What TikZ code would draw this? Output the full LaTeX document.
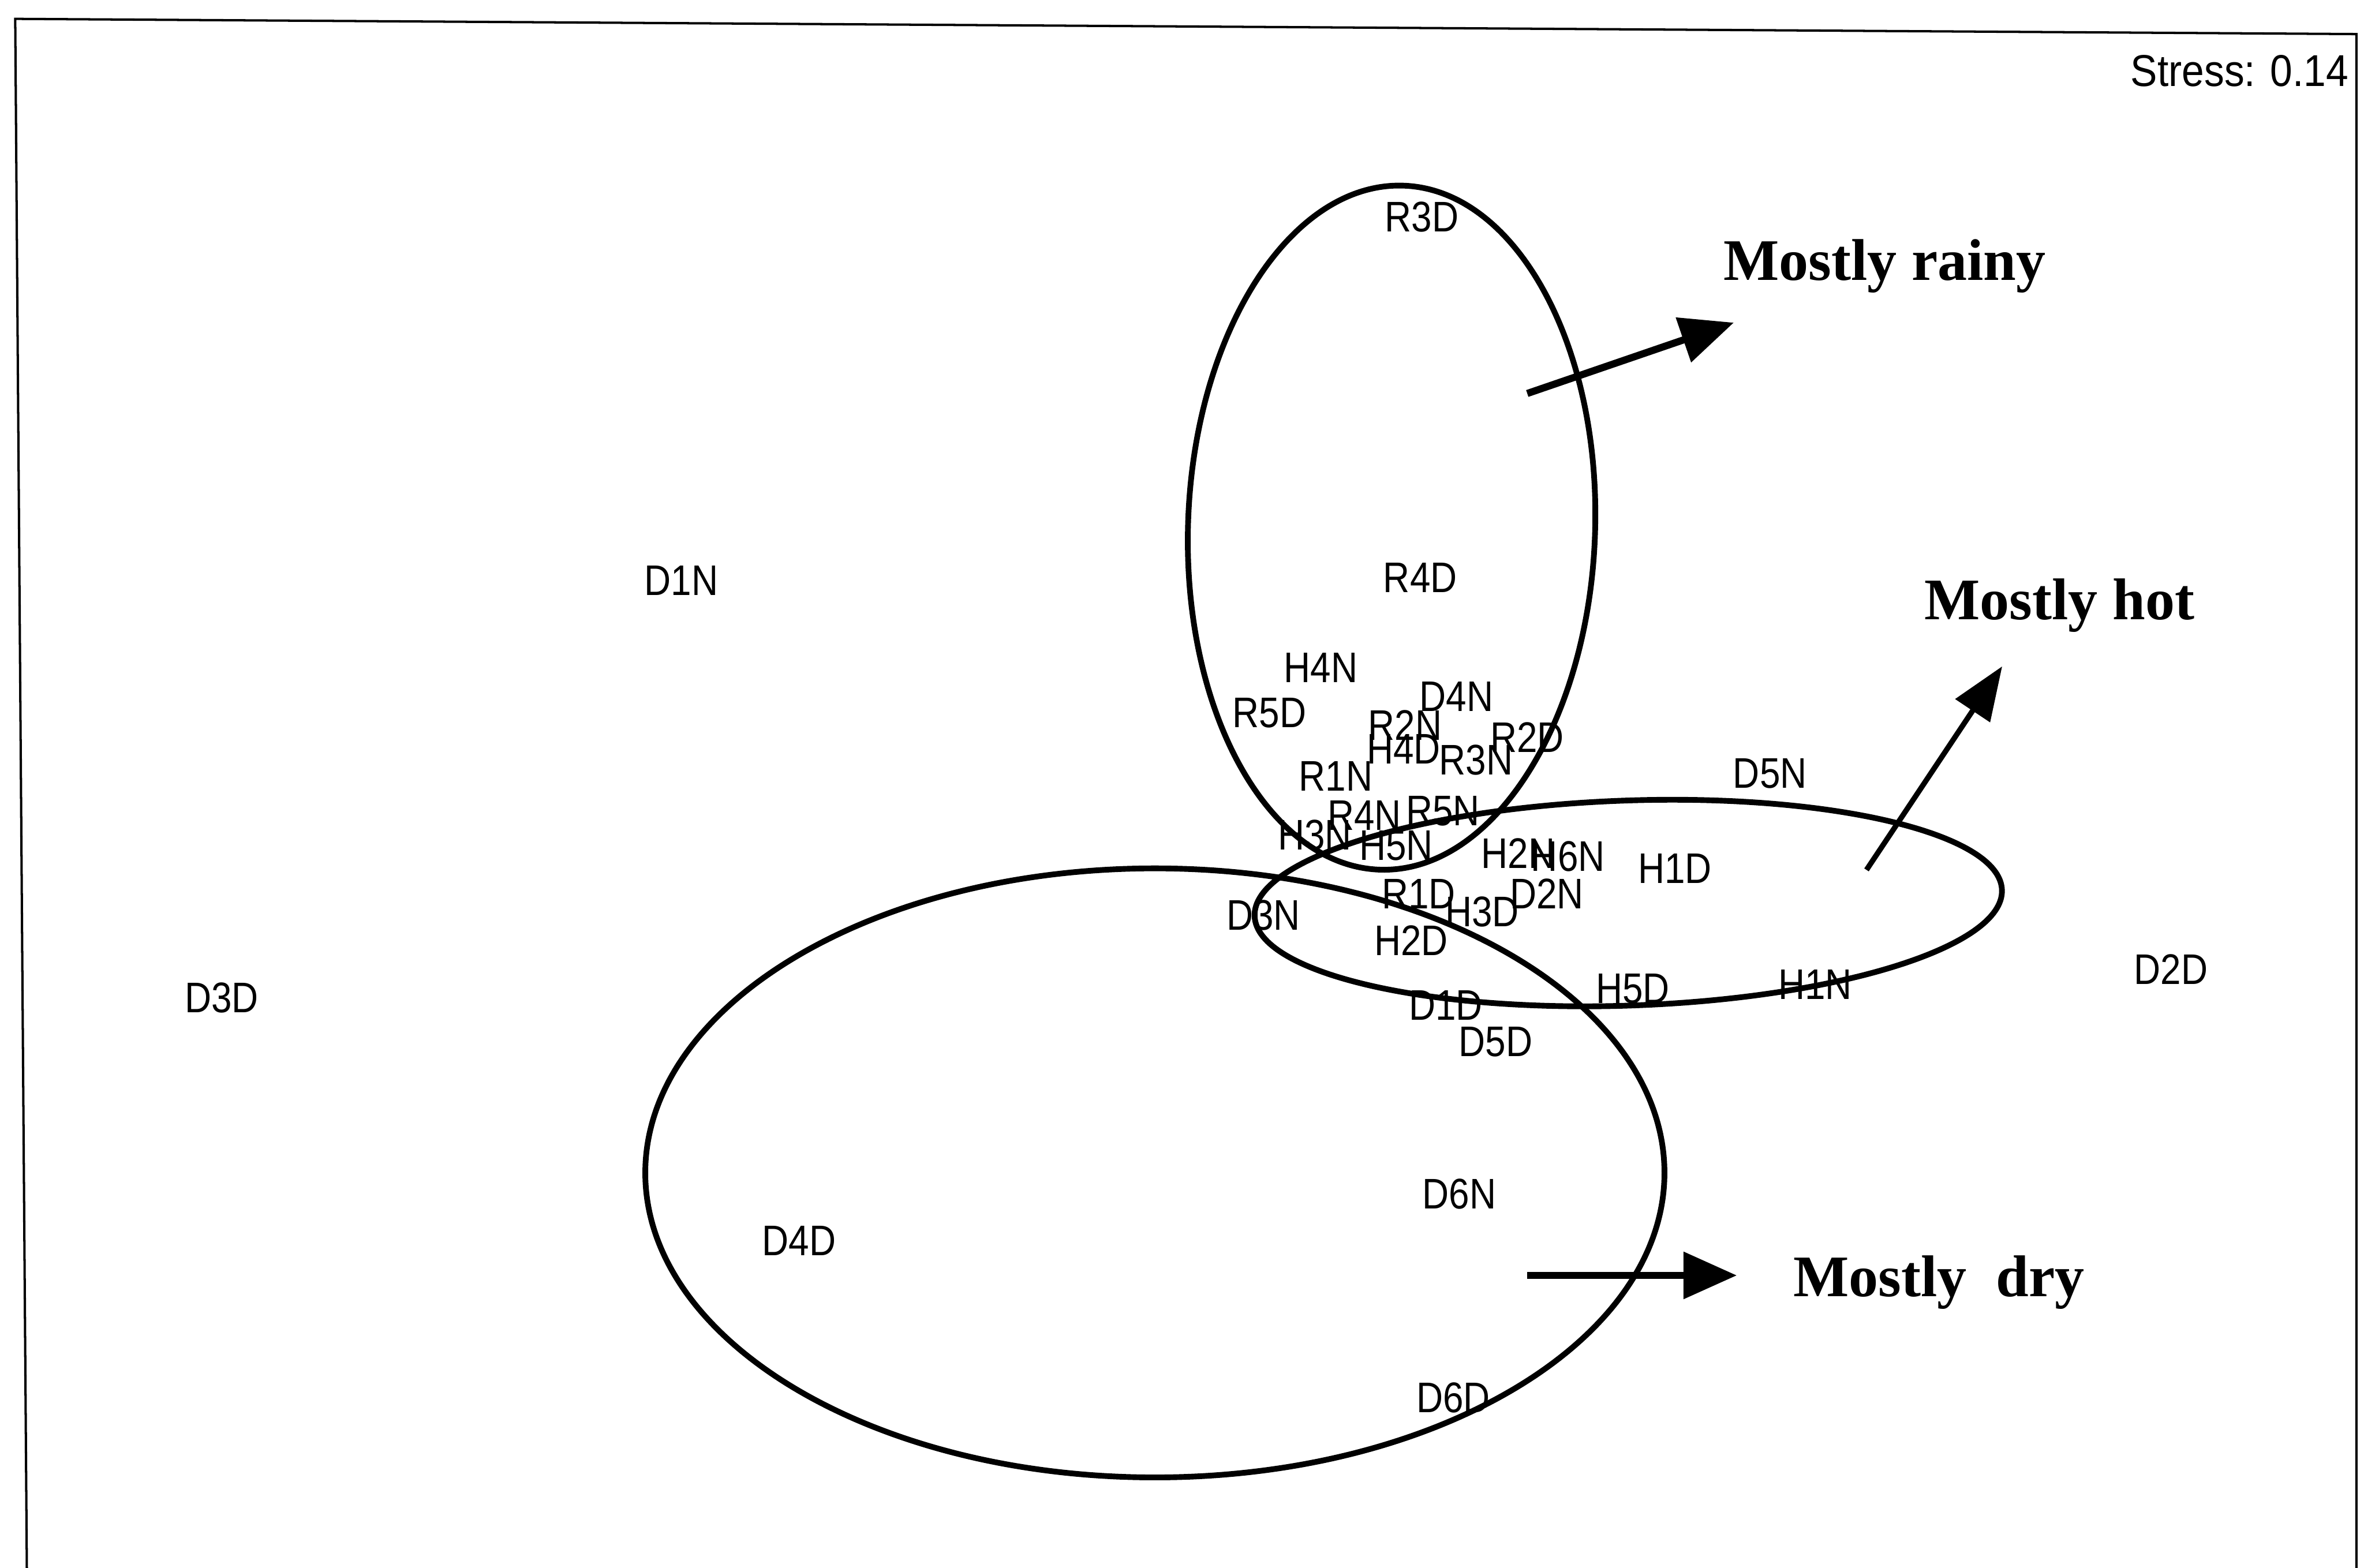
\documentclass[tikz,border=0pt]{standalone}
\usepackage{fontspec}
\setmainfont{Liberation Serif}
\newfontfamily\lblfont[FakeStretch=0.86]{Liberation Sans}
\newfontfamily\strfont[FakeStretch=0.9]{Liberation Sans}
\usetikzlibrary{arrows.meta}
\begin{document}
\begin{tikzpicture}[x=0.029694cm, y=-0.029694cm,
  pt/.style={inner sep=0pt, font=\lblfont\fontsize{24}{24}\selectfont},
  group/.style={inner sep=0pt, anchor=base, font=\bfseries\fontsize{33}{33}\selectfont},
  hull/.style={line width=3.2pt},
  trend/.style={line width=4pt, -{Triangle[length=1.05cm,width=0.9cm]}},
  trendthin/.style={line width=3pt, -{Triangle[length=1.05cm,width=0.8cm]}}
]
\useasboundingbox (0,0) rectangle (1568,1040);
% frame
\draw[line width=1.3pt] (17.8,1040) -- (10.1,12.5) -- (1563,22.6) -- (1563,1040);
\node[inner sep=0pt, anchor=east, font=\strfont\fontsize{25}{25}\selectfont] (stress) at (1558,47) {Stress: 0.14};

% group outlines
\draw[hull, rotate around={-2:(923,350)}] (923,350) ellipse [x radius=135, y radius=227];
\draw[hull, rotate around={2:(1080,599)}] (1080,599) ellipse [x radius=248, y radius=68];
\draw[hull] (766,778) ellipse [x radius=338, y radius=202];

% points
\node[pt] (R3D) at (943,144) {R3D};
\node[pt] (D1N) at (452,385) {D1N};
\node[pt] (R4D) at (942,383) {R4D};
\node[pt] (H4N) at (876,443) {H4N};
\node[pt] (D4N) at (966,462) {D4N};
\node[pt] (R5D) at (842,473) {R5D};
\node[pt] (R2N) at (932,481) {R2N};
\node[pt] (H4D) at (931,497) {H4D};
\node[pt] (R3N) at (979,504) {R3N};
\node[pt] (R2D) at (1013,489) {R2D};
\node[pt] (R1N) at (886,515) {R1N};
\node[pt] (D5N) at (1174,513) {D5N};
\node[pt] (H3N) at (872,554) {H3N};
\node[pt] (R4N) at (905,541) {R4N};
\node[pt] (R5N) at (957,538) {R5N};
\node[pt] (H5N) at (926,561) {H5N};
\node[pt] (H2N) at (1007,566) {H2N};
\node[pt] (H6N) at (1040,568) {H6N};
\node[pt] (H1D) at (1111,576) {H1D};
\node[pt] (D3N) at (838,607) {D3N};
\node[pt] (R1D) at (941,593) {R1D};
\node[pt] (H3D) at (983,605) {H3D};
\node[pt] (D2N) at (1026,593) {D2N};
\node[pt] (H2D) at (936,624) {H2D};
\node[pt] (D2D) at (1440,643) {D2D};
\node[pt] (D3D) at (147,662) {D3D};
\node[pt] (H5D) at (1083,656) {H5D};
\node[pt] (H1N) at (1204,653) {H1N};
\node[pt] (D1D) at (959,667) {D1D};
\node[pt] (D5D) at (992,691) {D5D};
\node[pt] (D6N) at (968,792) {D6N};
\node[pt] (D4D) at (530,823) {D4D};
\node[pt] (D6D) at (964,927) {D6D};

% group labels
\node[group] (rainy) at (1250,186) {Mostly rainy};
\node[group] (hot) at (1366,411) {Mostly hot};
\node[group] (dry) at (1286,860) {Mostly\ \ dry};

% trend arrows
\coordinate (rs) at (1013,261); \coordinate (re) at (1150,214);
\coordinate (hs) at (1238,577); \coordinate (he) at (1328,442);
\coordinate (ds) at (1013,846); \coordinate (de) at (1152,846);
\draw[trend] (rs) -- (re);
\draw[trendthin] (hs) -- (he);
\draw[trend] (ds) -- (de);
\end{tikzpicture}
\end{document}
